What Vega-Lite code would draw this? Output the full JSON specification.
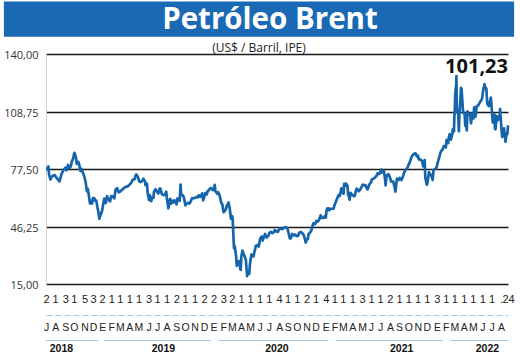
{
 "$schema": "https://vega.github.io/schema/vega-lite/v6.json",
 "background": "white",
 "padding": {"left": 3, "top": 1, "right": 0, "bottom": 0},
 "config": {"view": {"stroke": null}},
 "width": 462,
 "height": 230,
 "resolve": {"axis": {"x": "independent"}},
 "layer": [
  {
   "data": {"values": [{"t": "Petróleo Brent"}]},
   "mark": {"type": "rect", "color": "#1a69b4"},
   "encoding": {
    "x": {"datum": {"year": 2018, "month": 2, "date": 14, "utc": true}, "type": "temporal", "axis": null},
    "x2": {"datum": {"year": 2022, "month": 9, "date": 13, "utc": true}},
    "y": {"datum": 168.5, "type": "quantitative", "axis": {"title": null}},
    "y2": {"datum": 149.4}
   }
  },
  {
   "data": {"values": [{"t": "Petróleo Brent"}]},
   "mark": {"type": "text", "color": "white", "font": "Open Sans", "fontSize": 29.5, "fontWeight": "bold", "baseline": "alphabetic", "align": "center"},
   "encoding": {
    "x": {"datum": {"year": 2020, "month": 7, "date": 5, "utc": true}, "type": "temporal", "axis": null},
    "y": {"datum": 153.8, "type": "quantitative", "axis": {"title": null}},
    "text": {"field": "t"}
   }
  },
  {
   "data": {"values": [{"t": "(US$ / Barril, IPE)"}]},
   "mark": {"type": "text", "color": "#222", "font": "Open Sans", "fontSize": 12, "baseline": "alphabetic", "align": "center"},
   "encoding": {
    "x": {"datum": {"year": 2020, "month": 5, "date": 30, "utc": true}, "type": "temporal", "axis": null},
    "y": {"datum": 141.3, "type": "quantitative", "axis": {"title": null}},
    "text": {"field": "t"}
   }
  },
  {
   "data": {"values": [
    {"d":"2018-07-02","v":77.3},{"d":"2018-07-05","v":77.4},{"d":"2018-07-10","v":78.9},{"d":"2018-07-12","v":74.5},{"d":"2018-07-17","v":71.8},{"d":"2018-07-20","v":73.1},{"d":"2018-07-25","v":73.9},{"d":"2018-07-31","v":74.2},
    {"d":"2018-08-03","v":73.2},{"d":"2018-08-08","v":72.3},{"d":"2018-08-15","v":70.8},{"d":"2018-08-17","v":71.8},{"d":"2018-08-22","v":74.8},{"d":"2018-08-29","v":77.1},
    {"d":"2018-09-04","v":78.2},{"d":"2018-09-07","v":76.8},{"d":"2018-09-12","v":79.7},{"d":"2018-09-17","v":78.1},{"d":"2018-09-21","v":78.8},{"d":"2018-09-25","v":81.9},{"d":"2018-09-28","v":82.7},
    {"d":"2018-10-03","v":86.3},{"d":"2018-10-08","v":83.9},{"d":"2018-10-11","v":80.3},{"d":"2018-10-16","v":81.4},{"d":"2018-10-19","v":79.8},{"d":"2018-10-23","v":76.4},{"d":"2018-10-26","v":77.6},{"d":"2018-10-31","v":75.5},
    {"d":"2018-11-05","v":73.2},{"d":"2018-11-09","v":70.2},{"d":"2018-11-13","v":65.5},{"d":"2018-11-16","v":66.8},{"d":"2018-11-20","v":62.5},{"d":"2018-11-23","v":58.8},{"d":"2018-11-27","v":60.2},{"d":"2018-11-30","v":58.7},
    {"d":"2018-12-03","v":61.7},{"d":"2018-12-07","v":61.7},{"d":"2018-12-11","v":60.2},{"d":"2018-12-14","v":60.3},{"d":"2018-12-18","v":56.3},{"d":"2018-12-21","v":53.8},{"d":"2018-12-24","v":50.5},{"d":"2018-12-27","v":52.2},{"d":"2018-12-31","v":53.8},
    {"d":"2019-01-02","v":54.9},{"d":"2019-01-04","v":57.1},{"d":"2019-01-09","v":61.4},{"d":"2019-01-14","v":59.0},{"d":"2019-01-18","v":62.7},{"d":"2019-01-23","v":61.1},{"d":"2019-01-28","v":59.9},
    {"d":"2019-02-01","v":62.8},{"d":"2019-02-06","v":62.7},{"d":"2019-02-11","v":61.5},{"d":"2019-02-15","v":66.3},{"d":"2019-02-20","v":67.1},{"d":"2019-02-25","v":64.8},
    {"d":"2019-03-01","v":65.1},{"d":"2019-03-06","v":65.9},{"d":"2019-03-12","v":66.7},{"d":"2019-03-15","v":67.2},{"d":"2019-03-21","v":67.9},{"d":"2019-03-26","v":67.9},{"d":"2019-03-29","v":68.4},
    {"d":"2019-04-04","v":69.4},{"d":"2019-04-09","v":70.6},{"d":"2019-04-12","v":71.6},{"d":"2019-04-18","v":71.9},{"d":"2019-04-23","v":74.5},{"d":"2019-04-25","v":74.4},{"d":"2019-04-30","v":72.8},
    {"d":"2019-05-03","v":70.9},{"d":"2019-05-08","v":70.4},{"d":"2019-05-14","v":71.2},{"d":"2019-05-17","v":72.2},{"d":"2019-05-22","v":70.9},{"d":"2019-05-24","v":68.7},{"d":"2019-05-29","v":69.5},{"d":"2019-05-31","v":64.5},
    {"d":"2019-06-05","v":60.6},{"d":"2019-06-07","v":63.3},{"d":"2019-06-12","v":60.0},{"d":"2019-06-14","v":62.0},{"d":"2019-06-19","v":61.8},{"d":"2019-06-21","v":65.2},{"d":"2019-06-26","v":66.5},
    {"d":"2019-07-01","v":65.1},{"d":"2019-07-05","v":64.2},{"d":"2019-07-10","v":67.0},{"d":"2019-07-12","v":66.7},{"d":"2019-07-17","v":63.7},{"d":"2019-07-22","v":63.3},{"d":"2019-07-26","v":63.5},{"d":"2019-07-31","v":65.2},
    {"d":"2019-08-02","v":61.9},{"d":"2019-08-07","v":56.2},{"d":"2019-08-09","v":58.5},{"d":"2019-08-13","v":61.3},{"d":"2019-08-16","v":58.6},{"d":"2019-08-21","v":60.3},{"d":"2019-08-23","v":59.3},{"d":"2019-08-28","v":60.5},
    {"d":"2019-09-03","v":58.3},{"d":"2019-09-06","v":61.5},{"d":"2019-09-11","v":60.8},{"d":"2019-09-13","v":60.2},{"d":"2019-09-16","v":69.0},{"d":"2019-09-18","v":63.6},{"d":"2019-09-24","v":63.1},{"d":"2019-09-27","v":61.9},
    {"d":"2019-10-02","v":57.7},{"d":"2019-10-04","v":58.4},{"d":"2019-10-10","v":59.1},{"d":"2019-10-15","v":58.7},{"d":"2019-10-18","v":59.4},{"d":"2019-10-24","v":61.7},{"d":"2019-10-29","v":61.6},
    {"d":"2019-11-01","v":61.7},{"d":"2019-11-07","v":62.3},{"d":"2019-11-12","v":62.1},{"d":"2019-11-15","v":63.3},{"d":"2019-11-20","v":62.4},{"d":"2019-11-26","v":64.3},{"d":"2019-11-29","v":60.5},
    {"d":"2019-12-04","v":63.0},{"d":"2019-12-06","v":64.4},{"d":"2019-12-11","v":63.7},{"d":"2019-12-13","v":65.2},{"d":"2019-12-18","v":66.2},{"d":"2019-12-24","v":67.2},{"d":"2019-12-31","v":66.0},
    {"d":"2020-01-02","v":66.3},{"d":"2020-01-06","v":68.9},{"d":"2020-01-08","v":65.4},{"d":"2020-01-10","v":65.0},{"d":"2020-01-15","v":64.0},{"d":"2020-01-17","v":64.9},{"d":"2020-01-22","v":63.2},{"d":"2020-01-27","v":59.3},{"d":"2020-01-31","v":58.2},
    {"d":"2020-02-04","v":54.0},{"d":"2020-02-07","v":54.5},{"d":"2020-02-12","v":55.8},{"d":"2020-02-14","v":57.3},{"d":"2020-02-20","v":59.3},{"d":"2020-02-24","v":56.3},{"d":"2020-02-28","v":50.5},
    {"d":"2020-03-03","v":51.9},{"d":"2020-03-05","v":50.0},{"d":"2020-03-06","v":45.3},{"d":"2020-03-09","v":34.4},{"d":"2020-03-11","v":35.8},{"d":"2020-03-13","v":33.9},{"d":"2020-03-16","v":30.1},{"d":"2020-03-18","v":24.9},{"d":"2020-03-20","v":27.0},{"d":"2020-03-23","v":27.0},{"d":"2020-03-25","v":27.4},{"d":"2020-03-30","v":23.0},{"d":"2020-03-31","v":22.7},
    {"d":"2020-04-02","v":29.9},{"d":"2020-04-06","v":33.1},{"d":"2020-04-09","v":31.5},{"d":"2020-04-14","v":29.6},{"d":"2020-04-17","v":28.1},{"d":"2020-04-21","v":19.3},{"d":"2020-04-22","v":20.4},{"d":"2020-04-24","v":21.4},{"d":"2020-04-28","v":20.5},{"d":"2020-04-30","v":25.3},
    {"d":"2020-05-05","v":31.0},{"d":"2020-05-08","v":31.0},{"d":"2020-05-12","v":30.0},{"d":"2020-05-15","v":32.5},{"d":"2020-05-20","v":35.8},{"d":"2020-05-26","v":36.2},{"d":"2020-05-29","v":35.3},
    {"d":"2020-06-03","v":39.8},{"d":"2020-06-08","v":40.8},{"d":"2020-06-11","v":38.6},{"d":"2020-06-16","v":41.0},{"d":"2020-06-19","v":42.2},{"d":"2020-06-24","v":40.3},{"d":"2020-06-30","v":41.2},
    {"d":"2020-07-03","v":42.8},{"d":"2020-07-08","v":43.3},{"d":"2020-07-13","v":42.7},{"d":"2020-07-17","v":43.1},{"d":"2020-07-21","v":44.3},{"d":"2020-07-27","v":43.4},{"d":"2020-07-31","v":43.3},
    {"d":"2020-08-05","v":45.2},{"d":"2020-08-10","v":45.0},{"d":"2020-08-14","v":44.8},{"d":"2020-08-19","v":45.4},{"d":"2020-08-25","v":45.9},{"d":"2020-08-31","v":45.3},
    {"d":"2020-09-04","v":42.7},{"d":"2020-09-08","v":39.8},{"d":"2020-09-11","v":39.8},{"d":"2020-09-16","v":42.2},{"d":"2020-09-21","v":41.4},{"d":"2020-09-25","v":41.9},{"d":"2020-09-30","v":41.0},
    {"d":"2020-10-05","v":41.3},{"d":"2020-10-09","v":42.9},{"d":"2020-10-14","v":43.3},{"d":"2020-10-19","v":42.6},{"d":"2020-10-23","v":41.8},{"d":"2020-10-28","v":39.1},{"d":"2020-10-30","v":37.5},
    {"d":"2020-11-02","v":39.0},{"d":"2020-11-06","v":39.5},{"d":"2020-11-09","v":42.4},{"d":"2020-11-13","v":42.8},{"d":"2020-11-18","v":44.3},{"d":"2020-11-24","v":48.0},{"d":"2020-11-30","v":47.6},
    {"d":"2020-12-04","v":49.3},{"d":"2020-12-09","v":48.9},{"d":"2020-12-14","v":50.3},{"d":"2020-12-18","v":52.3},{"d":"2020-12-21","v":50.9},{"d":"2020-12-28","v":50.9},{"d":"2020-12-31","v":51.8},
    {"d":"2021-01-04","v":51.1},{"d":"2021-01-06","v":54.3},{"d":"2021-01-08","v":56.0},{"d":"2021-01-13","v":56.1},{"d":"2021-01-15","v":55.1},{"d":"2021-01-20","v":55.9},{"d":"2021-01-25","v":55.9},{"d":"2021-01-29","v":55.9},
    {"d":"2021-02-03","v":58.5},{"d":"2021-02-05","v":59.3},{"d":"2021-02-10","v":61.5},{"d":"2021-02-15","v":63.3},{"d":"2021-02-19","v":62.9},{"d":"2021-02-24","v":67.0},{"d":"2021-02-26","v":66.1},
    {"d":"2021-03-03","v":64.1},{"d":"2021-03-05","v":69.4},{"d":"2021-03-08","v":68.2},{"d":"2021-03-11","v":69.6},{"d":"2021-03-16","v":68.4},{"d":"2021-03-18","v":63.3},{"d":"2021-03-19","v":64.5},{"d":"2021-03-23","v":60.8},{"d":"2021-03-26","v":64.6},{"d":"2021-03-31","v":63.5},
    {"d":"2021-04-06","v":62.7},{"d":"2021-04-09","v":63.0},{"d":"2021-04-14","v":66.6},{"d":"2021-04-16","v":66.8},{"d":"2021-04-22","v":65.4},{"d":"2021-04-27","v":66.4},{"d":"2021-04-30","v":67.3},
    {"d":"2021-05-05","v":69.0},{"d":"2021-05-11","v":68.6},{"d":"2021-05-14","v":68.7},{"d":"2021-05-19","v":66.7},{"d":"2021-05-21","v":66.4},{"d":"2021-05-26","v":68.9},
    {"d":"2021-06-01","v":70.3},{"d":"2021-06-04","v":71.9},{"d":"2021-06-09","v":72.2},{"d":"2021-06-14","v":72.9},{"d":"2021-06-18","v":73.5},{"d":"2021-06-23","v":75.2},{"d":"2021-06-28","v":74.7},
    {"d":"2021-07-01","v":75.8},{"d":"2021-07-05","v":77.2},{"d":"2021-07-08","v":75.6},{"d":"2021-07-13","v":76.5},{"d":"2021-07-16","v":73.6},{"d":"2021-07-19","v":68.6},{"d":"2021-07-22","v":73.8},{"d":"2021-07-28","v":74.7},
    {"d":"2021-08-02","v":72.9},{"d":"2021-08-06","v":70.7},{"d":"2021-08-10","v":70.6},{"d":"2021-08-13","v":70.6},{"d":"2021-08-19","v":66.5},{"d":"2021-08-20","v":65.2},{"d":"2021-08-25","v":72.3},{"d":"2021-08-31","v":71.6},
    {"d":"2021-09-03","v":72.6},{"d":"2021-09-09","v":71.5},{"d":"2021-09-14","v":73.6},{"d":"2021-09-17","v":75.3},{"d":"2021-09-23","v":77.3},{"d":"2021-09-28","v":78.1},
    {"d":"2021-10-01","v":79.3},{"d":"2021-10-06","v":81.1},{"d":"2021-10-11","v":83.7},{"d":"2021-10-15","v":84.9},{"d":"2021-10-20","v":85.8},{"d":"2021-10-25","v":86.0},{"d":"2021-10-29","v":84.4},
    {"d":"2021-11-02","v":84.7},{"d":"2021-11-05","v":82.7},{"d":"2021-11-10","v":82.6},{"d":"2021-11-15","v":82.0},{"d":"2021-11-19","v":78.9},{"d":"2021-11-24","v":82.3},{"d":"2021-11-26","v":72.7},
    {"d":"2021-12-01","v":68.9},{"d":"2021-12-03","v":69.9},{"d":"2021-12-08","v":75.8},{"d":"2021-12-13","v":74.4},{"d":"2021-12-17","v":73.5},{"d":"2021-12-20","v":71.5},{"d":"2021-12-23","v":76.9},{"d":"2021-12-31","v":77.8},
    {"d":"2022-01-03","v":79.0},{"d":"2022-01-05","v":80.8},{"d":"2022-01-07","v":81.8},{"d":"2022-01-12","v":84.7},{"d":"2022-01-14","v":86.1},{"d":"2022-01-18","v":87.5},{"d":"2022-01-21","v":87.9},{"d":"2022-01-26","v":90.0},{"d":"2022-01-28","v":90.0},
    {"d":"2022-02-01","v":89.2},{"d":"2022-02-04","v":93.3},{"d":"2022-02-09","v":91.6},{"d":"2022-02-11","v":94.4},{"d":"2022-02-14","v":96.5},{"d":"2022-02-16","v":94.8},{"d":"2022-02-18","v":93.5},{"d":"2022-02-23","v":96.8},{"d":"2022-02-24","v":99.1},{"d":"2022-02-28","v":98.0},
    {"d":"2022-03-01","v":105.0},{"d":"2022-03-03","v":110.5},{"d":"2022-03-04","v":118.1},{"d":"2022-03-07","v":123.2},{"d":"2022-03-08","v":128.0},{"d":"2022-03-09","v":111.1},{"d":"2022-03-10","v":109.3},{"d":"2022-03-14","v":106.9},{"d":"2022-03-16","v":98.0},{"d":"2022-03-18","v":107.9},{"d":"2022-03-21","v":115.6},{"d":"2022-03-23","v":121.6},{"d":"2022-03-25","v":120.7},{"d":"2022-03-29","v":110.2},{"d":"2022-03-31","v":107.9},
    {"d":"2022-04-04","v":107.5},{"d":"2022-04-06","v":101.1},{"d":"2022-04-08","v":102.8},{"d":"2022-04-11","v":98.5},{"d":"2022-04-13","v":108.8},{"d":"2022-04-19","v":107.3},{"d":"2022-04-22","v":106.7},{"d":"2022-04-25","v":102.3},{"d":"2022-04-28","v":107.6},
    {"d":"2022-05-03","v":105.0},{"d":"2022-05-05","v":111.0},{"d":"2022-05-09","v":105.9},{"d":"2022-05-11","v":107.5},{"d":"2022-05-13","v":111.6},{"d":"2022-05-17","v":111.9},{"d":"2022-05-20","v":112.6},{"d":"2022-05-25","v":114.0},{"d":"2022-05-31","v":115.6},
    {"d":"2022-06-03","v":119.7},{"d":"2022-06-08","v":123.6},{"d":"2022-06-10","v":122.0},{"d":"2022-06-14","v":121.2},{"d":"2022-06-17","v":113.1},{"d":"2022-06-22","v":111.7},{"d":"2022-06-24","v":113.1},{"d":"2022-06-29","v":116.3},
    {"d":"2022-07-01","v":111.6},{"d":"2022-07-05","v":102.8},{"d":"2022-07-07","v":104.7},{"d":"2022-07-11","v":107.1},{"d":"2022-07-12","v":99.5},{"d":"2022-07-14","v":99.1},{"d":"2022-07-18","v":106.3},{"d":"2022-07-21","v":103.9},{"d":"2022-07-25","v":105.2},{"d":"2022-07-28","v":107.1},{"d":"2022-07-29","v":110.0},
    {"d":"2022-08-02","v":100.5},{"d":"2022-08-05","v":94.9},{"d":"2022-08-09","v":96.3},{"d":"2022-08-11","v":99.6},{"d":"2022-08-16","v":92.3},{"d":"2022-08-19","v":96.7},{"d":"2022-08-22","v":96.5},{"d":"2022-08-24","v":101.23}
   ]},
   "mark": {"type": "line", "color": "#1565ad", "strokeWidth": 2.7, "strokeJoin": "round"},
   "encoding": {
    "x": {"field": "d", "type": "temporal",
     "scale": {"type": "utc", "nice": false, "domain": [{"year": 2018, "month": 7, "date": 2, "utc": true}, {"year": 2022, "month": 8, "date": 24, "utc": true}]},
     "axis": {"orient": "bottom", "title": null, "domain": false, "ticks": false, "grid": false, "labelPadding": 9, "labelFontSize": 11, "labelFont": "Liberation Sans", "labelColor": "#222", "labelFlush": false, "labelOverlap": false, "labelBound": false,
      "labelExpr": "(utcyear(datum.value) == 2022 && utcmonth(datum.value) == 7 && utcdate(datum.value) == 1) ? '.' : '' + utcdate(datum.value)",
      "values": [
       {"year":2018,"month":7,"date":2,"utc":true},{"year":2018,"month":8,"date":1,"utc":true},{"year":2018,"month":9,"date":3,"utc":true},{"year":2018,"month":10,"date":1,"utc":true},{"year":2018,"month":11,"date":5,"utc":true},{"year":2018,"month":12,"date":3,"utc":true},
       {"year":2019,"month":1,"date":2,"utc":true},{"year":2019,"month":2,"date":1,"utc":true},{"year":2019,"month":3,"date":1,"utc":true},{"year":2019,"month":4,"date":1,"utc":true},{"year":2019,"month":5,"date":1,"utc":true},{"year":2019,"month":6,"date":3,"utc":true},{"year":2019,"month":7,"date":1,"utc":true},{"year":2019,"month":8,"date":1,"utc":true},{"year":2019,"month":9,"date":2,"utc":true},{"year":2019,"month":10,"date":1,"utc":true},{"year":2019,"month":11,"date":1,"utc":true},{"year":2019,"month":12,"date":2,"utc":true},
       {"year":2020,"month":1,"date":2,"utc":true},{"year":2020,"month":2,"date":3,"utc":true},{"year":2020,"month":3,"date":2,"utc":true},{"year":2020,"month":4,"date":1,"utc":true},{"year":2020,"month":5,"date":1,"utc":true},{"year":2020,"month":6,"date":1,"utc":true},{"year":2020,"month":7,"date":1,"utc":true},{"year":2020,"month":8,"date":4,"utc":true},{"year":2020,"month":9,"date":1,"utc":true},{"year":2020,"month":10,"date":1,"utc":true},{"year":2020,"month":11,"date":2,"utc":true},{"year":2020,"month":12,"date":1,"utc":true},
       {"year":2021,"month":1,"date":4,"utc":true},{"year":2021,"month":2,"date":1,"utc":true},{"year":2021,"month":3,"date":1,"utc":true},{"year":2021,"month":4,"date":1,"utc":true},{"year":2021,"month":5,"date":3,"utc":true},{"year":2021,"month":6,"date":1,"utc":true},{"year":2021,"month":7,"date":1,"utc":true},{"year":2021,"month":8,"date":2,"utc":true},{"year":2021,"month":9,"date":1,"utc":true},{"year":2021,"month":10,"date":1,"utc":true},{"year":2021,"month":11,"date":1,"utc":true},{"year":2021,"month":12,"date":1,"utc":true},
       {"year":2022,"month":1,"date":3,"utc":true},{"year":2022,"month":2,"date":1,"utc":true},{"year":2022,"month":3,"date":1,"utc":true},{"year":2022,"month":4,"date":1,"utc":true},{"year":2022,"month":5,"date":1,"utc":true},{"year":2022,"month":6,"date":1,"utc":true},{"year":2022,"month":7,"date":1,"utc":true},{"year":2022,"month":8,"date":1,"utc":true},{"year":2022,"month":8,"date":24,"utc":true}
      ]}},
    "y": {"field": "v", "type": "quantitative",
     "scale": {"domain": [15, 140], "nice": false, "zero": false},
     "axis": {"title": null, "values": [15, 46.25, 77.5, 108.75, 140], "labelExpr": "replace(format(datum.value, '.2f'), '.', ',')", "grid": true, "gridColor": "#1a1a1a", "gridWidth": 1.6, "ticks": false, "domain": true, "domainColor": "#cfcfcf", "domainWidth": 1, "labelPadding": 8, "labelFontSize": 11, "labelFont": "Open Sans", "labelColor": "#333", "labelOffset": 1.5}}
   }
  },
  {
   "data": {"values": [
    {"yr": 2018, "s": "2018-07-02", "e": "2018-12-19"},
    {"yr": 2019, "s": "2019-01-08", "e": "2019-12-25"},
    {"yr": 2020, "s": "2020-01-20", "e": "2021-01-12"},
    {"yr": 2021, "s": "2021-02-07", "e": "2022-01-23"},
    {"yr": 2022, "s": "2022-02-18", "e": "2022-08-24"}
   ]},
   "mark": {"type": "rule", "color": "#9fc4e4", "strokeWidth": 1.2},
   "encoding": {
    "x": {"field": "s", "type": "temporal",
     "axis": {"orient": "bottom", "offset": 56, "title": null, "domain": false, "ticks": false, "grid": false, "labelPadding": 3, "labelFontSize": 10.5, "labelFontWeight": "bold", "labelFont": "Liberation Sans", "labelColor": "#111", "labelFlush": false, "labelOverlap": false, "labelBound": false,
      "labelExpr": "'' + utcyear(datum.value)",
      "values": [{"year":2018,"month":8,"date":20,"utc":true},{"year":2019,"month":7,"date":20,"utc":true},{"year":2020,"month":7,"date":26,"utc":true},{"year":2021,"month":9,"date":8,"utc":true},{"year":2022,"month":6,"date":16,"utc":true}]}},
    "x2": {"field": "e"},
    "y": {"datum": -15.7, "type": "quantitative", "axis": {"title": null}}
   }
  },
  {
   "data": {"values": [{"d": "2022-08-24", "lbl": "101,23"}]},
   "mark": {"type": "text", "align": "right", "baseline": "alphabetic", "fontSize": 20, "fontWeight": "bold", "font": "Open Sans", "color": "#111"},
   "encoding": {
    "x": {"field": "d", "type": "temporal",
     "axis": {"orient": "bottom", "offset": 31, "title": null, "domain": true, "domainDash": [6, 3], "domainColor": "#a9cbe6", "domainWidth": 1, "ticks": false, "grid": false, "labelPadding": 7, "labelFontSize": 10.5, "labelFont": "Liberation Sans", "labelColor": "#222", "labelFlush": false, "labelOverlap": false, "labelBound": false,
      "labelExpr": "['E','F','M','A','M','J','J','A','S','O','N','D'][utcmonth(datum.value)]",
      "values": [
       {"year":2018,"month":7,"date":2,"utc":true},{"year":2018,"month":8,"date":1,"utc":true},{"year":2018,"month":9,"date":3,"utc":true},{"year":2018,"month":10,"date":1,"utc":true},{"year":2018,"month":11,"date":5,"utc":true},{"year":2018,"month":12,"date":3,"utc":true},
       {"year":2019,"month":1,"date":2,"utc":true},{"year":2019,"month":2,"date":1,"utc":true},{"year":2019,"month":3,"date":1,"utc":true},{"year":2019,"month":4,"date":1,"utc":true},{"year":2019,"month":5,"date":1,"utc":true},{"year":2019,"month":6,"date":3,"utc":true},{"year":2019,"month":7,"date":1,"utc":true},{"year":2019,"month":8,"date":1,"utc":true},{"year":2019,"month":9,"date":2,"utc":true},{"year":2019,"month":10,"date":1,"utc":true},{"year":2019,"month":11,"date":1,"utc":true},{"year":2019,"month":12,"date":2,"utc":true},
       {"year":2020,"month":1,"date":2,"utc":true},{"year":2020,"month":2,"date":3,"utc":true},{"year":2020,"month":3,"date":2,"utc":true},{"year":2020,"month":4,"date":1,"utc":true},{"year":2020,"month":5,"date":1,"utc":true},{"year":2020,"month":6,"date":1,"utc":true},{"year":2020,"month":7,"date":1,"utc":true},{"year":2020,"month":8,"date":4,"utc":true},{"year":2020,"month":9,"date":1,"utc":true},{"year":2020,"month":10,"date":1,"utc":true},{"year":2020,"month":11,"date":2,"utc":true},{"year":2020,"month":12,"date":1,"utc":true},
       {"year":2021,"month":1,"date":4,"utc":true},{"year":2021,"month":2,"date":1,"utc":true},{"year":2021,"month":3,"date":1,"utc":true},{"year":2021,"month":4,"date":1,"utc":true},{"year":2021,"month":5,"date":3,"utc":true},{"year":2021,"month":6,"date":1,"utc":true},{"year":2021,"month":7,"date":1,"utc":true},{"year":2021,"month":8,"date":2,"utc":true},{"year":2021,"month":9,"date":1,"utc":true},{"year":2021,"month":10,"date":1,"utc":true},{"year":2021,"month":11,"date":1,"utc":true},{"year":2021,"month":12,"date":1,"utc":true},
       {"year":2022,"month":1,"date":3,"utc":true},{"year":2022,"month":2,"date":1,"utc":true},{"year":2022,"month":3,"date":1,"utc":true},{"year":2022,"month":4,"date":1,"utc":true},{"year":2022,"month":5,"date":1,"utc":true},{"year":2022,"month":6,"date":1,"utc":true},{"year":2022,"month":7,"date":1,"utc":true},{"year":2022,"month":8,"date":1,"utc":true}
      ]}},
    "y": {"datum": 129.8, "type": "quantitative", "axis": {"title": null}},
    "text": {"field": "lbl"}
   }
  }
 ]
}
